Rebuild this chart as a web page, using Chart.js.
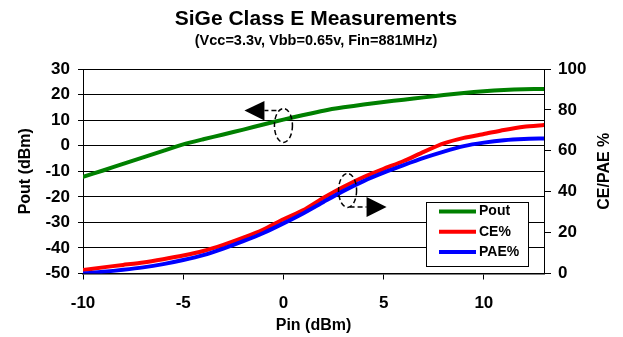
<!DOCTYPE html>
<html>
<head>
<meta charset="utf-8">
<title>SiGe Class E Measurements</title>
<script src="https://cdn.jsdelivr.net/npm/chart.js@4.4.1/dist/chart.umd.min.js"></script>
<style>
  html, body { margin: 0; padding: 0; background: #fff; }
  #wrap { width: 623px; height: 337px; }
</style>
</head>
<body>
<div id="wrap"><canvas id="classE" width="623" height="337"></canvas></div>
<script>
const pinDbm = [-10, -9, -8, -7, -6, -5, -4, -3, -2, -1, 0, 1, 2, 3, 4, 5, 6, 7, 8, 9, 10, 11, 12, 13];
const poutDbm = [-12.2, -9.7, -7.1, -4.6, -2.0, 0.5, 2.5, 4.4, 6.3, 8.3, 10.2, 12.0, 13.7, 15.0, 16.1, 17.1, 18.0, 18.9, 19.8, 20.6, 21.3, 21.8, 22.1, 22.2];
const cePct = [1.7, 3.0, 4.2, 5.4, 7.0, 8.8, 11.0, 14.0, 17.5, 21.5, 26.5, 31.0, 37.0, 42.4, 47.2, 51.2, 55.0, 59.5, 63.6, 66.3, 68.2, 70.2, 71.8, 72.6];
const paePct = [0, 0.8, 1.8, 3.0, 4.6, 6.6, 9.0, 12.2, 15.8, 19.8, 24.5, 29.5, 35.0, 40.4, 45.2, 49.3, 53.0, 56.5, 59.6, 62.3, 64.0, 65.2, 65.8, 66.0];

// Axis ticks
const pinTicks = [-10, -5, 0, 5, 10];
const poutTicks = [-50, -40, -30, -20, -10, 0, 10, 20, 30];
const effTicks = [0, 20, 40, 60, 80, 100];

// Dashed-ellipse callouts pointing at the axis each curve group belongs to
const callouts = [
  { pin: 0, value: 7.9, axis: 'yPout', side: 'left' },
  { pin: 3.2, value: 40.6, axis: 'yEff', side: 'right' }
];

const FONT = "'Liberation Sans', Arial, sans-serif";
Chart.defaults.font.family = FONT;
Chart.defaults.font.weight = 'bold';
Chart.defaults.color = '#000';

function points(values) {
  return pinDbm.map((p, i) => ({ x: p, y: values[i] }));
}

function fixedTicks(list) {
  return function (scale) {
    scale.ticks = list.map(v => ({ value: v }));
  };
}

// legend box sitting inside the plot, bottom right
const legendBox = {
  id: 'legendBox',
  afterDatasetsDraw(chart) {
    const { ctx, chartArea } = chart;
    const w = 102, h = 64;
    const left = Math.round(chartArea.right - 16 - w);
    const top = Math.round(chartArea.bottom - 7.5 - h);
    ctx.save();
    ctx.fillStyle = '#fff';
    ctx.fillRect(left, top, w, h);
    ctx.strokeStyle = '#000';
    ctx.lineWidth = 1;
    ctx.strokeRect(left + 0.5, top + 0.5, w, h);
    ctx.font = 'bold 14px ' + FONT;
    ctx.textBaseline = 'middle';
    ctx.textAlign = 'left';
    chart.data.datasets.forEach((ds, i) => {
      const y = top + 9.5 + i * 20.3;
      ctx.strokeStyle = ds.borderColor;
      ctx.lineWidth = 4;
      ctx.beginPath();
      ctx.moveTo(left + 13, y);
      ctx.lineTo(left + 50, y);
      ctx.stroke();
      ctx.fillStyle = '#000';
      ctx.fillText(ds.label, left + 53, y);
    });
    ctx.restore();
  }
};

// right axis title reads bottom-to-top like the left one
const rightTitle = {
  id: 'rightTitle',
  afterDraw(chart) {
    const s = chart.scales.yEff;
    const { ctx, chartArea } = chart;
    ctx.save();
    ctx.translate(s.right - 18, (chartArea.top + chartArea.bottom) / 2);
    ctx.rotate(-Math.PI / 2);
    ctx.font = 'bold 16px ' + FONT;
    ctx.fillStyle = '#000';
    ctx.textAlign = 'center';
    ctx.textBaseline = 'middle';
    ctx.fillText(s.options.title.text, 0, 0);
    ctx.restore();
  }
};

const calloutMarks = {
  id: 'calloutMarks',
  afterDatasetsDraw(chart) {
    const { ctx } = chart;
    const xs = chart.scales.x;
    ctx.save();
    callouts.forEach(c => {
      const cx = xs.getPixelForValue(c.pin);
      const cy = chart.scales[c.axis].getPixelForValue(c.value);
      ctx.strokeStyle = '#000';
      ctx.fillStyle = '#000';
      ctx.lineWidth = 1.5;
      ctx.setLineDash([5, 3]);
      ctx.beginPath();
      ctx.ellipse(cx, cy, 9, 17, 0, 0, Math.PI * 2);
      ctx.stroke();
      ctx.beginPath();
      if (c.side === 'left') {
        ctx.moveTo(cx - 7, cy - 15);
        ctx.lineTo(cx - 19, cy - 15);
      } else {
        ctx.moveTo(cx + 2, cy + 16.5);
        ctx.lineTo(cx + 19, cy + 16.5);
      }
      ctx.stroke();
      ctx.setLineDash([]);
      ctx.beginPath();
      if (c.side === 'left') {
        ctx.moveTo(cx - 19, cy - 24.5);
        ctx.lineTo(cx - 19, cy - 5);
        ctx.lineTo(cx - 39, cy - 15);
      } else {
        ctx.moveTo(cx + 19, cy + 6.5);
        ctx.lineTo(cx + 19, cy + 26.5);
        ctx.lineTo(cx + 39, cy + 16.5);
      }
      ctx.closePath();
      ctx.fill();
    });
    ctx.restore();
  }
};

new Chart(document.getElementById('classE'), {
  type: 'line',
  data: {
    datasets: [
      { label: 'Pout', data: points(poutDbm), yAxisID: 'yPout', borderColor: '#008000', order: 2 },
      { label: 'CE%', data: points(cePct), yAxisID: 'yEff', borderColor: '#ff0000', order: 1 },
      { label: 'PAE%', data: points(paePct), yAxisID: 'yEff', borderColor: '#0000ff', order: 0 }
    ]
  },
  options: {
    responsive: false,
    animation: false,
    devicePixelRatio: 1,
    layout: { padding: { left: 9, right: 0, top: 0, bottom: 0 } },
    elements: {
      line: { borderWidth: 4, tension: 0.2, fill: false, borderCapStyle: 'round', borderJoinStyle: 'round' },
      point: { radius: 0 }
    },
    plugins: {
      legend: { display: false },
      tooltip: { enabled: false },
      title: {
        display: true,
        text: 'SiGe Class E Measurements',
        font: { size: 21, weight: 'bold', lineHeight: 1 },
        padding: { top: 9, bottom: 0 }
      },
      subtitle: {
        display: true,
        text: '(Vcc=3.3v, Vbb=0.65v, Fin=881MHz)',
        color: '#000',
        font: { size: 14.5, weight: 'bold', lineHeight: 1 },
        padding: { top: 4, bottom: 20.5 }
      }
    },
    scales: {
      x: {
        type: 'linear',
        min: -10,
        max: 13,
        afterBuildTicks: fixedTicks(pinTicks),
        afterFit: s => { s.height = 63.5; },
        grid: { drawOnChartArea: false, color: '#000', tickLength: 6 },
        border: { color: '#000', width: 1.5 },
        ticks: { font: { size: 17 }, padding: 14, maxRotation: 0 },
        title: { display: true, text: 'Pin (dBm)', font: { size: 16 }, padding: { bottom: 2 } }
      },
      yPout: {
        type: 'linear',
        position: 'left',
        min: -50,
        max: 30,
        afterBuildTicks: fixedTicks(poutTicks),
        afterFit: s => { s.width = 74; },
        grid: { color: '#000', tickLength: 5 },
        border: { color: '#000' },
        ticks: { font: { size: 17 }, padding: 8 },
        title: { display: true, text: 'Pout (dBm)', font: { size: 16 }, padding: { top: 7 } }
      },
      yEff: {
        type: 'linear',
        position: 'right',
        min: 0,
        max: 100,
        afterBuildTicks: fixedTicks(effTicks),
        afterFit: s => { s.width = 79; },
        grid: { drawOnChartArea: false, color: '#000', tickLength: 7 },
        border: { color: '#000' },
        ticks: { font: { size: 17 }, padding: 7 },
        title: { display: false, text: 'CE/PAE %' }
      }
    }
  },
  plugins: [legendBox, rightTitle, calloutMarks]
});
</script>
</body>
</html>
